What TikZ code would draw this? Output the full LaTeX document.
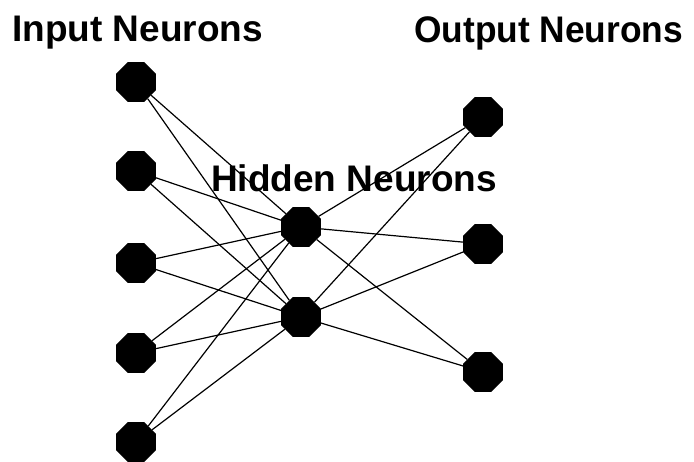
\documentclass[tikz,border=0pt]{standalone}
\usepackage{fontspec}
\setmainfont{Liberation Sans}
\usetikzlibrary{shapes.geometric}

\begin{document}
\begin{tikzpicture}[x=1pt,y=-1pt,
					neuron/.style={regular polygon,regular polygon sides=8,fill=black,
							inner sep=0pt,minimum size=43pt},
					link/.style={line width=1.2pt,black},
					title/.style={anchor=base west,inner sep=0pt,
							font=\fontsize{37}{40}\selectfont\bfseries}]
				\useasboundingbox (0,0) rectangle (694,462);
				% input layer
				\node[neuron] (in1) at (136,82)  {};
				\node[neuron] (in2) at (136,171) {};
				\node[neuron] (in3) at (136,263) {};
				\node[neuron] (in4) at (136,353) {};
				\node[neuron] (in5) at (136,442) {};
				% hidden layer
				\node[neuron] (hid1) at (301,227) {};
				\node[neuron] (hid2) at (301,317) {};
				% output layer
				\node[neuron] (out1) at (483,117) {};
				\node[neuron] (out2) at (483,244) {};
				\node[neuron] (out3) at (483,372) {};
				\draw[link] (in1)--(hid1) (in1)--(hid2);
				\draw[link] (in2)--(hid1) (in2)--(hid2);
				\draw[link] (in3)--(hid1) (in3)--(hid2);
				\draw[link] (in4)--(hid1) (in4)--(hid2);
				\draw[link] (in5)--(hid1) (in5)--(hid2);
				\draw[link] (hid1)--(out1) (hid1)--(out2) (hid1)--(out3);
				\draw[link] (hid2)--(out1) (hid2)--(out2) (hid2)--(out3);
				\node[title] (intitle)  at (12,42)  {Input Neurons};
				\node[title] (outtitle) at (414,43) {\scalebox{0.955}[1]{Output Neurons}};
				\node[title] (hidtitle) at (211,192) {Hidden Neurons};
			\end{tikzpicture}
\end{document}
